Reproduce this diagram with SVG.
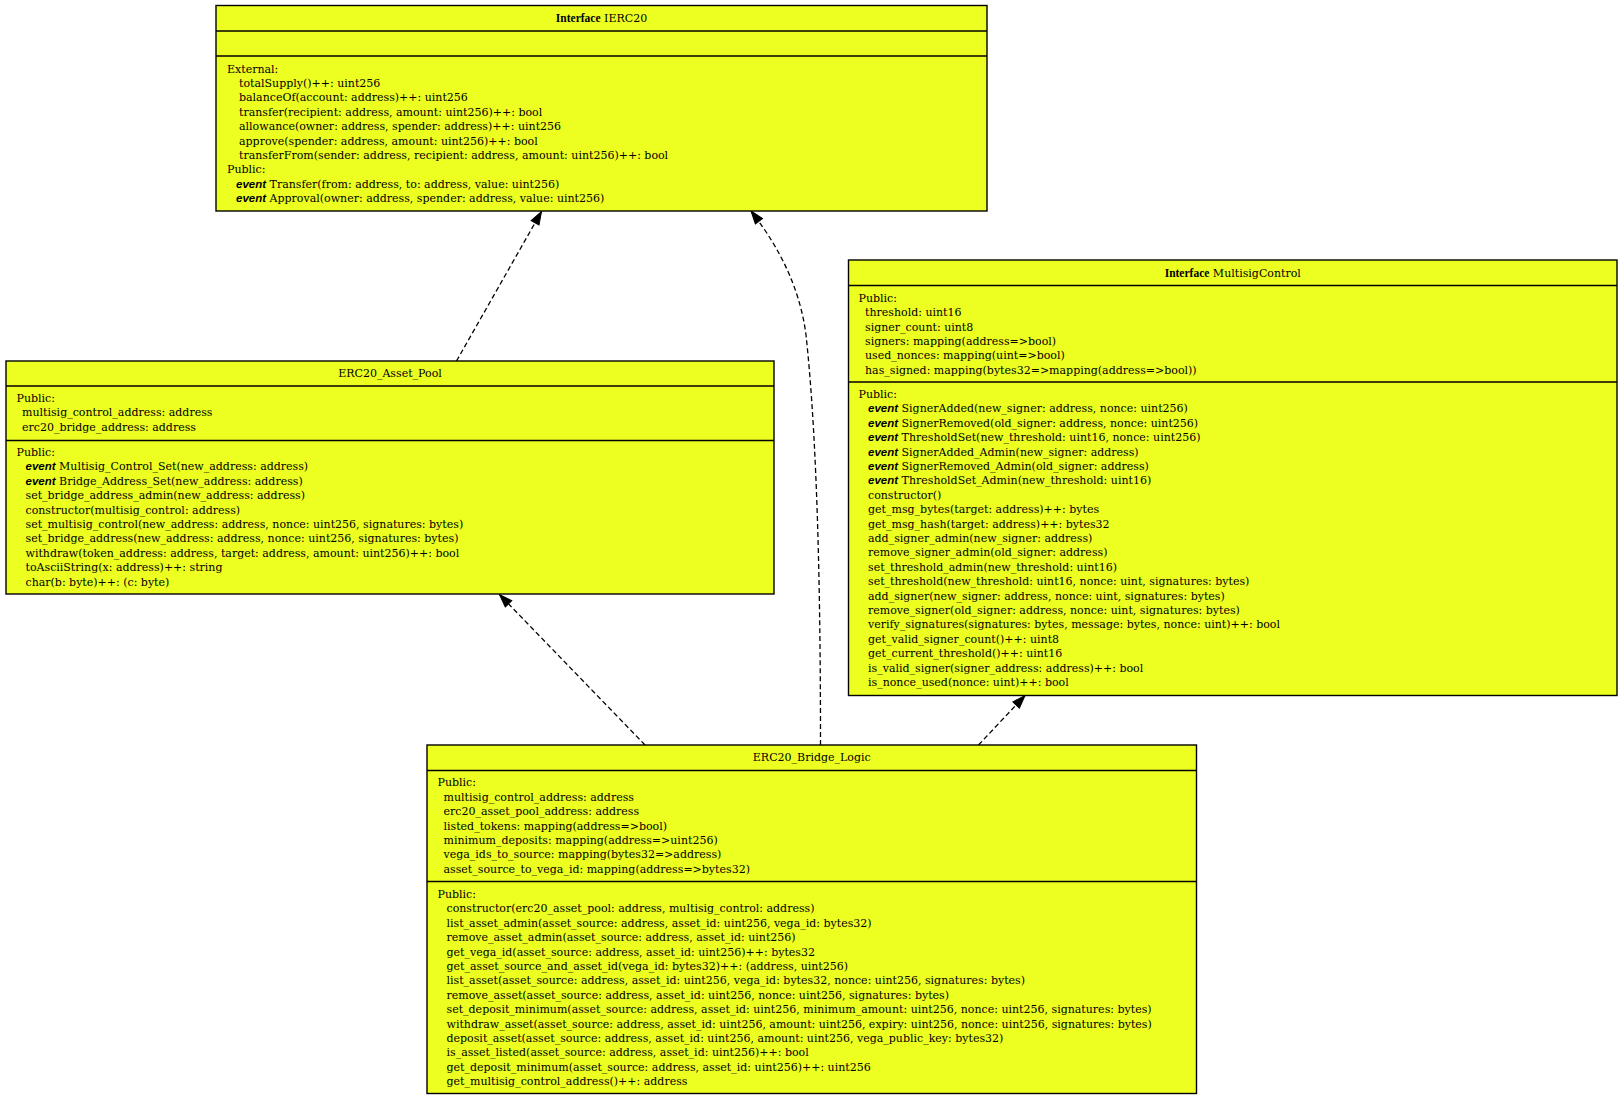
<svg xmlns="http://www.w3.org/2000/svg" width="1621" height="1100" viewBox="0 0 1621 1100">
<style>
.box{fill:#edff21;stroke:#000;stroke-width:1.4}
.sep{stroke:#000;stroke-width:1.4}
.t{font-family:"DejaVu Serif","Liberation Serif",serif;font-size:11px;fill:#000}
.ttl{text-anchor:middle}
.kw{font-family:"Liberation Serif",serif;font-weight:bold;font-size:11.5px}
.ev{font-family:"Liberation Sans",sans-serif;font-weight:bold;font-style:italic;font-size:11.5px}
.edge{fill:none;stroke:#000;stroke-width:1.3;stroke-dasharray:5,3}
</style>
<defs>
<marker id="arr" viewBox="0 0 15 11" refX="14" refY="5.5" markerWidth="15" markerHeight="11" markerUnits="userSpaceOnUse" orient="auto">
<path d="M1,1 L14,5.5 L1,10 z" fill="#000" stroke="#000" stroke-width="1"/>
</marker>
</defs>
<rect width="1621" height="1100" fill="#fff"/>

<g id="connectors">
<path class="edge" d="M456.5,361 L541.5,211.5" marker-end="url(#arr)"/>
<path class="edge" d="M645,745 L499.5,594.5" marker-end="url(#arr)"/>
<path class="edge" d="M820.5,745 C820.5,620 818.5,450 806,335 C799,280 772,238 751,211" marker-end="url(#arr)"/>
<path class="edge" d="M978.5,745 L1025,695.5" marker-end="url(#arr)"/>
</g>

<g id="IERC20">
<rect class="box" x="216" y="5.5" width="771" height="205.5"/>
<line class="sep" x1="216" y1="31" x2="987" y2="31"/>
<line class="sep" x1="216" y1="56" x2="987" y2="56"/>
<text class="t ttl" x="601.5" y="22"><tspan class="kw">Interface</tspan> IERC20</text>
<text class="t">
<tspan x="227" y="72.5">External:</tspan>
<tspan x="239" dy="14.4">totalSupply()++: uint256</tspan>
<tspan x="239" dy="14.4">balanceOf(account: address)++: uint256</tspan>
<tspan x="239" dy="14.4">transfer(recipient: address, amount: uint256)++: bool</tspan>
<tspan x="239" dy="14.4">allowance(owner: address, spender: address)++: uint256</tspan>
<tspan x="239" dy="14.4">approve(spender: address, amount: uint256)++: bool</tspan>
<tspan x="239" dy="14.4">transferFrom(sender: address, recipient: address, amount: uint256)++: bool</tspan>
<tspan x="227" dy="14.4">Public:</tspan>
<tspan x="236" dy="14.4"><tspan class="ev">event</tspan> Transfer(from: address, to: address, value: uint256)</tspan>
<tspan x="236" dy="14.4"><tspan class="ev">event</tspan> Approval(owner: address, spender: address, value: uint256)</tspan>
</text>
</g>

<g id="ERC20_Asset_Pool">
<rect class="box" x="6" y="361" width="768" height="233"/>
<line class="sep" x1="6" y1="386" x2="774" y2="386"/>
<line class="sep" x1="6" y1="440.5" x2="774" y2="440.5"/>
<text class="t ttl" x="390" y="376.5">ERC20_Asset_Pool</text>
<text class="t">
<tspan x="16.5" y="401.7">Public:</tspan>
<tspan x="22" dy="14.4">multisig_control_address: address</tspan>
<tspan x="22" dy="14.4">erc20_bridge_address: address</tspan>
</text>
<text class="t">
<tspan x="16.5" y="456">Public:</tspan>
<tspan x="25.5" dy="14.4"><tspan class="ev">event</tspan> Multisig_Control_Set(new_address: address)</tspan>
<tspan x="25.5" dy="14.4"><tspan class="ev">event</tspan> Bridge_Address_Set(new_address: address)</tspan>
<tspan x="25.5" dy="14.4">set_bridge_address_admin(new_address: address)</tspan>
<tspan x="25.5" dy="14.4">constructor(multisig_control: address)</tspan>
<tspan x="25.5" dy="14.4">set_multisig_control(new_address: address, nonce: uint256, signatures: bytes)</tspan>
<tspan x="25.5" dy="14.4">set_bridge_address(new_address: address, nonce: uint256, signatures: bytes)</tspan>
<tspan x="25.5" dy="14.4">withdraw(token_address: address, target: address, amount: uint256)++: bool</tspan>
<tspan x="25.5" dy="14.4">toAsciiString(x: address)++: string</tspan>
<tspan x="25.5" dy="14.4">char(b: byte)++: (c: byte)</tspan>
</text>
</g>

<g id="MultisigControl">
<rect class="box" x="848.5" y="260" width="768.5" height="435.5"/>
<line class="sep" x1="848.5" y1="285.5" x2="1617" y2="285.5"/>
<line class="sep" x1="848.5" y1="382" x2="1617" y2="382"/>
<text class="t ttl" x="1232.75" y="276.5"><tspan class="kw">Interface</tspan> MultisigControl</text>
<text class="t">
<tspan x="858.5" y="301.7">Public:</tspan>
<tspan x="865" dy="14.4">threshold: uint16</tspan>
<tspan x="865" dy="14.4">signer_count: uint8</tspan>
<tspan x="865" dy="14.4">signers: mapping(address=&gt;bool)</tspan>
<tspan x="865" dy="14.4">used_nonces: mapping(uint=&gt;bool)</tspan>
<tspan x="865" dy="14.4">has_signed: mapping(bytes32=&gt;mapping(address=&gt;bool))</tspan>
</text>
<text class="t">
<tspan x="858.5" y="398">Public:</tspan>
<tspan x="868" dy="14.4"><tspan class="ev">event</tspan> SignerAdded(new_signer: address, nonce: uint256)</tspan>
<tspan x="868" dy="14.4"><tspan class="ev">event</tspan> SignerRemoved(old_signer: address, nonce: uint256)</tspan>
<tspan x="868" dy="14.4"><tspan class="ev">event</tspan> ThresholdSet(new_threshold: uint16, nonce: uint256)</tspan>
<tspan x="868" dy="14.4"><tspan class="ev">event</tspan> SignerAdded_Admin(new_signer: address)</tspan>
<tspan x="868" dy="14.4"><tspan class="ev">event</tspan> SignerRemoved_Admin(old_signer: address)</tspan>
<tspan x="868" dy="14.4"><tspan class="ev">event</tspan> ThresholdSet_Admin(new_threshold: uint16)</tspan>
<tspan x="868" dy="14.4">constructor()</tspan>
<tspan x="868" dy="14.4">get_msg_bytes(target: address)++: bytes</tspan>
<tspan x="868" dy="14.4">get_msg_hash(target: address)++: bytes32</tspan>
<tspan x="868" dy="14.4">add_signer_admin(new_signer: address)</tspan>
<tspan x="868" dy="14.4">remove_signer_admin(old_signer: address)</tspan>
<tspan x="868" dy="14.4">set_threshold_admin(new_threshold: uint16)</tspan>
<tspan x="868" dy="14.4">set_threshold(new_threshold: uint16, nonce: uint, signatures: bytes)</tspan>
<tspan x="868" dy="14.4">add_signer(new_signer: address, nonce: uint, signatures: bytes)</tspan>
<tspan x="868" dy="14.4">remove_signer(old_signer: address, nonce: uint, signatures: bytes)</tspan>
<tspan x="868" dy="14.4">verify_signatures(signatures: bytes, message: bytes, nonce: uint)++: bool</tspan>
<tspan x="868" dy="14.4">get_valid_signer_count()++: uint8</tspan>
<tspan x="868" dy="14.4">get_current_threshold()++: uint16</tspan>
<tspan x="868" dy="14.4">is_valid_signer(signer_address: address)++: bool</tspan>
<tspan x="868" dy="14.4">is_nonce_used(nonce: uint)++: bool</tspan>
</text>
</g>

<g id="ERC20_Bridge_Logic">
<rect class="box" x="427" y="745" width="769.5" height="348.5"/>
<line class="sep" x1="427" y1="770.5" x2="1196.5" y2="770.5"/>
<line class="sep" x1="427" y1="881.5" x2="1196.5" y2="881.5"/>
<text class="t ttl" x="811.75" y="761">ERC20_Bridge_Logic</text>
<text class="t">
<tspan x="437.5" y="786.3">Public:</tspan>
<tspan x="443.5" dy="14.4">multisig_control_address: address</tspan>
<tspan x="443.5" dy="14.4">erc20_asset_pool_address: address</tspan>
<tspan x="443.5" dy="14.4">listed_tokens: mapping(address=&gt;bool)</tspan>
<tspan x="443.5" dy="14.4">minimum_deposits: mapping(address=&gt;uint256)</tspan>
<tspan x="443.5" dy="14.4">vega_ids_to_source: mapping(bytes32=&gt;address)</tspan>
<tspan x="443.5" dy="14.4">asset_source_to_vega_id: mapping(address=&gt;bytes32)</tspan>
</text>
<text class="t">
<tspan x="437.5" y="898">Public:</tspan>
<tspan x="446.5" dy="14.4">constructor(erc20_asset_pool: address, multisig_control: address)</tspan>
<tspan x="446.5" dy="14.4">list_asset_admin(asset_source: address, asset_id: uint256, vega_id: bytes32)</tspan>
<tspan x="446.5" dy="14.4">remove_asset_admin(asset_source: address, asset_id: uint256)</tspan>
<tspan x="446.5" dy="14.4">get_vega_id(asset_source: address, asset_id: uint256)++: bytes32</tspan>
<tspan x="446.5" dy="14.4">get_asset_source_and_asset_id(vega_id: bytes32)++: (address, uint256)</tspan>
<tspan x="446.5" dy="14.4">list_asset(asset_source: address, asset_id: uint256, vega_id: bytes32, nonce: uint256, signatures: bytes)</tspan>
<tspan x="446.5" dy="14.4">remove_asset(asset_source: address, asset_id: uint256, nonce: uint256, signatures: bytes)</tspan>
<tspan x="446.5" dy="14.4">set_deposit_minimum(asset_source: address, asset_id: uint256, minimum_amount: uint256, nonce: uint256, signatures: bytes)</tspan>
<tspan x="446.5" dy="14.4">withdraw_asset(asset_source: address, asset_id: uint256, amount: uint256, expiry: uint256, nonce: uint256, signatures: bytes)</tspan>
<tspan x="446.5" dy="14.4">deposit_asset(asset_source: address, asset_id: uint256, amount: uint256, vega_public_key: bytes32)</tspan>
<tspan x="446.5" dy="14.4">is_asset_listed(asset_source: address, asset_id: uint256)++: bool</tspan>
<tspan x="446.5" dy="14.4">get_deposit_minimum(asset_source: address, asset_id: uint256)++: uint256</tspan>
<tspan x="446.5" dy="14.4">get_multisig_control_address()++: address</tspan>
</text>
</g>
</svg>
